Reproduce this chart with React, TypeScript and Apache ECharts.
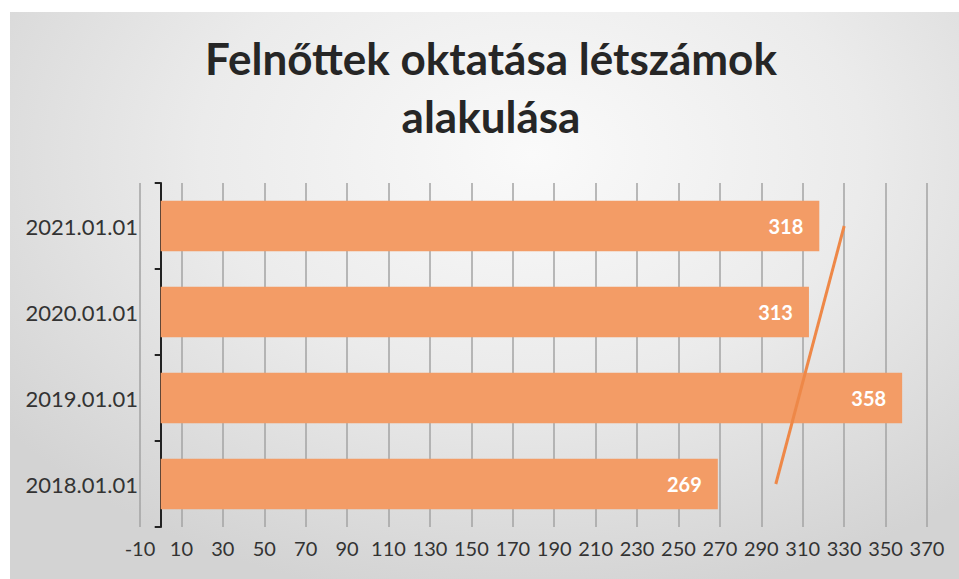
import React, { useEffect, useRef } from "react";
import * as echarts from "echarts";

const categories = ["2018.01.01", "2019.01.01", "2020.01.01", "2021.01.01"];
const values = [269, 358, 313, 318];
// linear trendline end points (at 2018 and 2021)
const trendEnds = [297, 330];
const titleText = "Felnőttek oktatása létszámok\nalakulása";

export default function App() {
  const ref = useRef<HTMLDivElement>(null);
  useEffect(() => {
    if (!ref.current) return;
    const chart = echarts.init(ref.current, undefined, { renderer: "svg" });
    chart.setOption({
      animation: false,
      backgroundColor: "transparent",
      title: {
        text: titleText,
        left: 486,
        top: 24,
        textAlign: "center",
        textStyle: {
          fontFamily: "Lato",
          fontWeight: "bold",
          fontSize: 44,
          lineHeight: 58,
          color: "#262626",
        },
      },
      grid: { left: 140, right: 32, top: 183, bottom: 52, outerBoundsMode: "none" },
      xAxis: {
        type: "value",
        min: -10,
        max: 370,
        interval: 20,
        axisLine: { show: false },
        axisTick: { show: false },
        splitLine: { show: true, lineStyle: { color: "#a3a3a3", width: 1.5 } },
        axisLabel: { fontFamily: "Lato", fontSize: 20, color: "#333", margin: 11 },
      },
      yAxis: {
        type: "category",
        data: categories,
        axisLine: { show: true, onZero: true, lineStyle: { color: "#222", width: 2 } },
        axisTick: { show: true, length: 6, lineStyle: { color: "#222", width: 2 } },
        axisLabel: { fontFamily: "Lato", fontSize: 22, color: "#333", margin: 2 },
        splitLine: { show: false },
      },
      series: [
        {
          type: "bar",
          data: values,
          barCategoryGap: "41%",
          itemStyle: { color: "#F39C66" },
          label: {
            show: true,
            position: "insideRight",
            distance: 16,
            color: "#ffffff",
            fontFamily: "Lato",
            fontWeight: "bold",
            fontSize: 20,
          },
        },
        {
          type: "line",
          data: [
            [trendEnds[0], 0],
            [trendEnds[1], categories.length - 1],
          ],
          symbol: "none",
          z: 5,
          lineStyle: { color: "#EE8848", width: 3 },
        },
      ],
    });
    return () => chart.dispose();
  }, []);
  return (
    <div style={{ position: "fixed", left: 0, top: 0, width: 959, height: 579, background: "#ffffff" }}>
      <div
        style={{
          position: "absolute",
          left: 10,
          top: 12,
          right: 0,
          bottom: 0,
          background:
            "radial-gradient(ellipse 70% 80% at 55% 25%, #fafafa 0%, #ebebeb 50%, #d3d3d3 100%)",
        }}
      />
      <div ref={ref} style={{ position: "absolute", left: 0, top: 0, width: 959, height: 579 }} />
    </div>
  );
}
